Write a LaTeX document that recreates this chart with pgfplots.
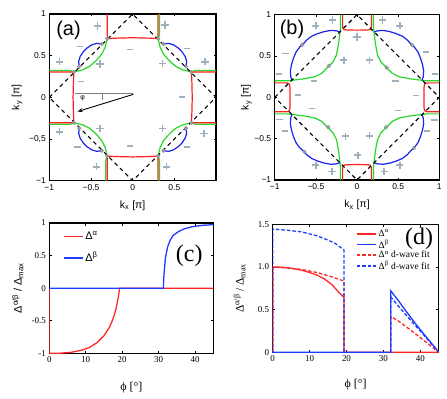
\documentclass[border=0pt]{standalone}
\usepackage{fontspec}
\setmainfont{Liberation Serif}
\newfontfamily\sffont{Liberation Sans}
\usepackage{pgfplots}
\pgfplotsset{compat=1.18}
\usetikzlibrary{arrows.meta}

\definecolor{cred}{RGB}{255,30,30}
\definecolor{cblue}{RGB}{25,35,235}
\definecolor{cgreen}{RGB}{40,215,40}
\definecolor{csign}{RGB}{158,176,188}
\definecolor{cdot}{RGB}{160,162,168}
\definecolor{lred}{RGB}{255,40,40}
\definecolor{lblue}{RGB}{30,60,255}

\pgfplotsset{
  fsbase/.style={scale only axis, anchor=south west, xmin=-1,xmax=1,ymin=-1,ymax=1,
    axis line style={line width=1.4bp},
    tick style={black, line width=0.6bp},
    major tick length=2.5bp,
    tick label style={font=\sffont\fontsize{8.5}{9}\selectfont},
    label style={font=\sffont\fontsize{10.5}{11}\selectfont},
    xlabel={k\textsubscript{x} [π]}, ylabel={k\textsubscript{y} [π]},
  },
  phbase/.style={scale only axis, anchor=south west, xmin=0,xmax=45,
    axis line style={line width=1.3bp},
    tick style={black, line width=0.6bp},
    major tick length=2.5bp,
    tick label style={font=\fontsize{9}{10}\selectfont},
    xtick={0,10,20,30,40}, xticklabels={0,10,20,30,40},
    xlabel={ϕ [°]},
    xlabel style={font=\fontsize{12}{13}\selectfont},
    legend image code/.code={\draw[#1, line width=1.8bp] (0bp,0bp) -- (19bp,0bp);},
  },
  fsr/.style={color=cred, line width=1.2bp, mark=none},
  fsg/.style={color=cgreen, line width=1.2bp, mark=none},
  fsb/.style={color=cblue, line width=1.2bp, mark=none},
  fsd/.style={color=black, line width=1.1bp, dash pattern=on 4bp off 3.5bp, mark=none},
  fsdot/.style={only marks, mark=*, mark size=1.9bp, mark options={fill=cdot, draw=cdot!80!black, line width=0.3bp}},
  fsplus/.style={only marks, mark=+, mark size=3.6bp, mark options={color=csign, line width=1.5bp}},
  fsminus/.style={only marks, mark=-, mark size=3.2bp, mark options={color=csign, line width=1.5bp}},
}

\begin{document}
\begin{tikzpicture}[x=1bp,y=1bp]
\useasboundingbox (0,0) rectangle (447,398);

% ---------------- (a) ----------------
\begin{axis}[fsbase, at={(49.3bp,217.3bp)}, width=166.7bp, height=166.7bp,
  xtick={-1,-0.5,0,0.5}, xticklabels={−1,−0.5,0,0.5},
  ytick={-1,-0.5,0,0.5,1}, yticklabels={−1,{−0,5},0,0.5,1},
  xlabel style={at={(axis description cs:0.5,-0.164)}, anchor=base},
  ylabel style={at={(axis description cs:-0.18,0.5)}, anchor=base}]
% green
\addplot[fsg] coordinates {(0.322,1) (0.322,0.75) (0.305,0.705) (0.33,0.60) (0.37,0.52) (0.42,0.46) (0.46,0.42) (0.52,0.37) (0.60,0.33) (0.705,0.305) (0.75,0.322) (1,0.322)};
\addplot[fsg] coordinates {(-0.305,0.705) (-0.33,0.60) (-0.37,0.52) (-0.42,0.46) (-0.46,0.42) (-0.52,0.37) (-0.60,0.33) (-0.705,0.305) (-0.75,0.322) (-1,0.322)};
\addplot[fsg] coordinates {(-0.322,-1) (-0.322,-0.75) (-0.305,-0.705) (-0.33,-0.60) (-0.37,-0.52) (-0.42,-0.46) (-0.46,-0.42) (-0.52,-0.37) (-0.60,-0.33) (-0.705,-0.305) (-0.75,-0.322) (-1,-0.322)};
\addplot[fsg] coordinates {(0.322,-1) (0.322,-0.75) (0.305,-0.705) (0.33,-0.60) (0.37,-0.52) (0.42,-0.46) (0.46,-0.42) (0.52,-0.37) (0.60,-0.33) (0.705,-0.305) (0.75,-0.322) (1,-0.322)};
% red
\addplot[fsr] coordinates {(-0.305,1) (-0.305,0.75) (-0.30,0.705) (-0.2,0.71) (0,0.715) (0.2,0.71) (0.30,0.705) (0.305,0.75) (0.305,1)};
\addplot[fsr] coordinates {(-0.305,-1) (-0.305,-0.75) (-0.30,-0.705) (-0.2,-0.71) (0,-0.715) (0.2,-0.71) (0.30,-0.705) (0.305,-0.75) (0.305,-1)};
\addplot[fsr] coordinates {(1,0.305) (0.75,0.305) (0.705,0.30) (0.71,0.2) (0.715,0) (0.71,-0.2) (0.705,-0.30) (0.75,-0.305) (1,-0.305)};
\addplot[fsr] coordinates {(-1,0.305) (-0.75,0.305) (-0.705,0.30) (-0.71,0.2) (-0.715,0) (-0.71,-0.2) (-0.705,-0.30) (-0.75,-0.305) (-1,-0.305)};
% blue
\addplot[fsb] coordinates {(0.37,0.64) (0.43,0.648) (0.49,0.63) (0.55,0.59) (0.59,0.55) (0.63,0.49) (0.648,0.43) (0.64,0.37)};
\addplot[fsb] coordinates {(-0.37,0.64) (-0.43,0.648) (-0.49,0.63) (-0.55,0.59) (-0.59,0.55) (-0.63,0.49) (-0.648,0.43) (-0.64,0.37)};
\addplot[fsb] coordinates {(-0.37,-0.64) (-0.43,-0.648) (-0.49,-0.63) (-0.55,-0.59) (-0.59,-0.55) (-0.63,-0.49) (-0.648,-0.43) (-0.64,-0.37)};
\addplot[fsb] coordinates {(0.37,-0.64) (0.43,-0.648) (0.49,-0.63) (0.55,-0.59) (0.59,-0.55) (0.63,-0.49) (0.648,-0.43) (0.64,-0.37)};
% dashed zone boundary
\addplot[fsd] coordinates {(-1,0) (0,1) (1,0) (0,-1) (-1,0)};
% dots
\addplot[fsdot] coordinates {(0.305,0.705) (0.705,0.305) (0.37,0.64) (0.64,0.37)
 (-0.305,0.705) (-0.705,0.305) (-0.37,0.64) (-0.64,0.37)
 (-0.305,-0.705) (-0.705,-0.305) (-0.37,-0.64) (-0.64,-0.37)
 (0.305,-0.705) (0.705,-0.305) (0.37,-0.64) (0.64,-0.37)};
% signs
\addplot[fsplus] coordinates {(-0.424,0.856) (0.389,0.868) (-0.88,0.427) (-0.391,0.40) (0.357,0.408) (0.869,0.427) (-0.88,-0.413) (-0.391,-0.372) (0.357,-0.372) (0.857,-0.432) (-0.431,-0.833) (0.409,-0.833)};
\addplot[fsminus] coordinates {(-0.031,0.576) (0.649,0.588) (-0.63,0.61) (-0.62,0.19) (0.589,0.007) (-0.66,-0.593) (-0.031,-0.581) (0.649,-0.593)};
% angle annotation
\addplot[color=gray, line width=0.5bp, mark=none] coordinates {(-0.69,0.055) (0.008,0.055)};
\addplot[color=gray, line width=0.5bp, mark=none] coordinates {(-0.37,0.055) (-0.37,-0.03)};
\addplot[color=black, line width=0.9bp, mark=none, -{Stealth[length=5bp,width=4bp]}] coordinates {(0.008,0.036) (-0.66,-0.17)};
\node[font=\sffont\fontsize{7}{8}\selectfont] at (axis cs:-0.60,-0.01) {φ};
\node[font=\sffont\fontsize{20}{20}\selectfont] at (axis cs:-0.77,0.80) {(a)};
\end{axis}

% ---------------- (b) ----------------
\begin{axis}[fsbase, at={(274.7bp,218bp)}, width=164.6bp, height=165.3bp,
  xtick={-1,-0.5,0,0.5,1}, xticklabels={−1,−0.5,0,0.5,1},
  ytick={-1,-0.5,0,0.5,1}, yticklabels={−1,−0.5,0,0.5,1},
  xlabel style={at={(axis description cs:0.5,-0.169)}, anchor=base},
  ylabel style={at={(axis description cs:-0.158,0.5)}, anchor=base}]
% green
\addplot[fsg] coordinates {(0.20,1) (0.20,0.85) (0.205,0.80) (0.215,0.72) (0.225,0.64) (0.25,0.51) (0.29,0.43) (0.36,0.36) (0.43,0.29) (0.51,0.25) (0.64,0.225) (0.72,0.215) (0.80,0.205) (0.85,0.20) (1,0.20)};
\addplot[fsg] coordinates {(-0.20,1) (-0.20,0.85) (-0.205,0.80) (-0.215,0.72) (-0.225,0.64) (-0.25,0.51) (-0.29,0.43) (-0.36,0.36) (-0.43,0.29) (-0.51,0.25) (-0.64,0.225) (-0.72,0.215) (-0.80,0.205) (-0.85,0.20) (-1,0.20)};
\addplot[fsg] coordinates {(-0.20,-1) (-0.20,-0.85) (-0.205,-0.80) (-0.215,-0.72) (-0.225,-0.64) (-0.25,-0.51) (-0.29,-0.43) (-0.36,-0.36) (-0.43,-0.29) (-0.51,-0.25) (-0.64,-0.225) (-0.72,-0.215) (-0.80,-0.205) (-0.85,-0.20) (-1,-0.20)};
\addplot[fsg] coordinates {(0.20,-1) (0.20,-0.85) (0.205,-0.80) (0.215,-0.72) (0.225,-0.64) (0.25,-0.51) (0.29,-0.43) (0.36,-0.36) (0.43,-0.29) (0.51,-0.25) (0.64,-0.225) (0.72,-0.215) (0.80,-0.205) (0.85,-0.20) (1,-0.20)};
% red
\addplot[fsr] coordinates {(-0.175,1) (-0.175,0.87) (-0.172,0.84) (-0.16,0.822) (-0.13,0.815) (0,0.813) (0.13,0.815) (0.16,0.822) (0.172,0.84) (0.175,0.87) (0.175,1)};
\addplot[fsr] coordinates {(-0.175,-1) (-0.175,-0.87) (-0.172,-0.84) (-0.16,-0.822) (-0.13,-0.815) (0,-0.813) (0.13,-0.815) (0.16,-0.822) (0.172,-0.84) (0.175,-0.87) (0.175,-1)};
\addplot[fsr] coordinates {(1,0.175) (0.87,0.175) (0.84,0.172) (0.822,0.16) (0.815,0.13) (0.813,0) (0.815,-0.13) (0.822,-0.16) (0.84,-0.172) (0.87,-0.175) (1,-0.175)};
\addplot[fsr] coordinates {(-1,0.175) (-0.87,0.175) (-0.84,0.172) (-0.822,0.16) (-0.815,0.13) (-0.813,0) (-0.815,-0.13) (-0.822,-0.16) (-0.84,-0.172) (-0.87,-0.175) (-1,-0.175)};
% blue
\addplot[fsb] coordinates {(0.205,0.79) (0.25,0.805) (0.32,0.81) (0.40,0.795) (0.48,0.77) (0.55,0.74) (0.61,0.695) (0.65,0.65) (0.695,0.61) (0.74,0.55) (0.77,0.48) (0.795,0.40) (0.81,0.32) (0.805,0.25) (0.79,0.205)};
\addplot[fsb] coordinates {(-0.205,0.79) (-0.25,0.805) (-0.32,0.81) (-0.40,0.795) (-0.48,0.77) (-0.55,0.74) (-0.61,0.695) (-0.65,0.65) (-0.695,0.61) (-0.74,0.55) (-0.77,0.48) (-0.795,0.40) (-0.81,0.32) (-0.805,0.25) (-0.79,0.205)};
\addplot[fsb] coordinates {(-0.205,-0.79) (-0.25,-0.805) (-0.32,-0.81) (-0.40,-0.795) (-0.48,-0.77) (-0.55,-0.74) (-0.61,-0.695) (-0.65,-0.65) (-0.695,-0.61) (-0.74,-0.55) (-0.77,-0.48) (-0.795,-0.40) (-0.81,-0.32) (-0.805,-0.25) (-0.79,-0.205)};
\addplot[fsb] coordinates {(0.205,-0.79) (0.25,-0.805) (0.32,-0.81) (0.40,-0.795) (0.48,-0.77) (0.55,-0.74) (0.61,-0.695) (0.65,-0.65) (0.695,-0.61) (0.74,-0.55) (0.77,-0.48) (0.795,-0.40) (0.81,-0.32) (0.805,-0.25) (0.79,-0.205)};
% dashed
\addplot[fsd] coordinates {(-1,0) (0,1) (1,0) (0,-1) (-1,0)};
% dots
\addplot[fsdot] coordinates {(0.672,0.63) (0.36,0.36) (-0.665,0.636) (-0.34,0.383) (-0.35,-0.36) (-0.64,-0.66) (0.352,-0.362) (0.69,-0.615)};
% signs
\addplot[fsplus] coordinates {(-0.30,0.935) (0.31,0.935) (-0.50,0.865) (0.52,0.865) (0,0.73) (-0.16,0.45) (0.15,0.45) (-0.14,-0.47) (0.15,-0.465) (0.01,-0.70) (-0.50,-0.82) (0.52,-0.82) (-0.305,-0.90) (0.33,-0.90)};
\addplot[fsminus] coordinates {(-0.87,0.533) (0.84,0.55) (-0.945,0.28) (0.948,0.283) (-0.52,0.198) (0.47,0.198) (-0.715,0.029) (0.72,0.02) (-0.55,-0.132) (0.50,-0.16) (-0.944,-0.265) (0.94,-0.273) (-0.875,-0.405) (0.847,-0.406)};
\node[font=\sffont\fontsize{20}{20}\selectfont] at (axis cs:-0.79,0.82) {(b)};
\end{axis}

% ---------------- (c) ----------------
\begin{axis}[phbase, at={(49.3bp,44.7bp)}, width=164bp, height=130.3bp,
  ymin=-1, ymax=1,
  ytick={-1,-0.5,0,0.5,1}, yticklabels={-1,-0.5,0,0.5,1},
  ylabel={Δ\textsuperscript{α/β} / Δ\textsubscript{max}},
  ylabel style={font=\sffont\fontsize{11}{12}\selectfont, at={(axis description cs:-0.168,0.5)}, anchor=base},
  xlabel style={at={(axis description cs:0.5,-0.289)}, anchor=base},
  legend style={at={(axis description cs:0.08,0.95)}, anchor=north west, draw=none, fill=none,
    font=\sffont\fontsize{11}{12}\selectfont, row sep=7bp, inner sep=0pt},
  legend cell align=left]
\addplot[color=lred, line width=1.3bp, mark=none] coordinates {(0,0) (0,-1) (3,-0.998) (6,-0.985) (9,-0.95) (11,-0.91) (13,-0.84) (15,-0.73) (16.5,-0.6) (17.5,-0.47) (18.3,-0.32) (18.9,-0.15) (19.3,0) (45,0)};
\addlegendentry{Δ\textsuperscript{α}}
\addplot[color=lblue, line width=1.3bp, mark=none] coordinates {(0,0) (31.3,0) (31.4,0.15) (31.6,0.3) (31.9,0.48) (32.5,0.64) (33.2,0.74) (34,0.81) (35.5,0.87) (37,0.91) (39,0.94) (42,0.965) (45,0.975)};
\addlegendentry{Δ\textsuperscript{β}}
\node[font=\fontsize{24}{24}\selectfont] at (axis cs:38.4,0.49) {(c)};
\end{axis}

% ---------------- (d) ----------------
\begin{axis}[phbase, at={(272.7bp,45.7bp)}, width=166bp, height=128bp,
  ymin=0, ymax=1.5,
  ytick={0,0.5,1,1.5}, yticklabels={0,0.5,1.0,1.5},
  ylabel={Δ\textsuperscript{α/β} / Δ\textsubscript{max}},
  ylabel style={font=\fontsize{11.5}{12}\selectfont, at={(axis description cs:-0.175,0.5)}, anchor=base},
  xlabel style={at={(axis description cs:0.5,-0.277)}, anchor=base},
  legend style={at={(axis description cs:0.50,0.975)}, anchor=north west, draw=none, fill=none,
    font=\fontsize{9.5}{10}\selectfont, row sep=-2.5bp, inner sep=0pt},
  legend cell align=left]
\addplot[color=lred, line width=1.3bp, mark=none] coordinates {(0,0) (0,1.0) (2,0.998) (4,0.99) (6,0.978) (8,0.96) (10,0.935) (12,0.905) (14,0.86) (16,0.795) (18,0.70) (19.3,0.645) (19.3,0) (45,0)};
\addlegendentry{Δ\textsuperscript{α}}
\addplot[color=lblue, line width=1.3bp, mark=none] coordinates {(0,0) (32,0) (32,0.72) (34,0.61) (36,0.49) (38,0.375) (40,0.265) (42,0.16) (44,0.055) (45,0)};
\addlegendentry{Δ\textsuperscript{β}}
\addplot[color=lred, line width=1.3bp, mark=none, dash pattern=on 3.5bp off 2bp] coordinates {(0,0) (0,1.0) (4,0.99) (8,0.97) (12,0.935) (16,0.885) (19.3,0.835) (19.3,0)};
\addlegendentry{Δ\textsuperscript{α} d-wave fit}
\addplot[color=lblue, line width=1.3bp, mark=none, dash pattern=on 3.5bp off 2bp] coordinates {(0,0) (0,1.445) (4,1.43) (8,1.41) (12,1.365) (15,1.315) (17,1.275) (19.3,1.2) (19.3,0)};
\addlegendentry{Δ\textsuperscript{β} d-wave fit}
\addplot[color=lred, line width=1.3bp, mark=none, dash pattern=on 3.5bp off 2bp, forget plot] coordinates {(32,0) (32,0.42) (34,0.37) (36,0.305) (38,0.24) (40,0.172) (42,0.105) (44,0.035) (45,0)};
\addplot[color=lblue, line width=1.3bp, mark=none, dash pattern=on 3.5bp off 2bp, forget plot] coordinates {(32,0) (32,0.65) (34,0.545) (36,0.445) (38,0.345) (40,0.25) (42,0.15) (44,0.05) (45,0)};
\node[font=\fontsize{24}{24}\selectfont] at (axis cs:39.7,1.336) {(d)};
\end{axis}
\end{tikzpicture}
\end{document}
